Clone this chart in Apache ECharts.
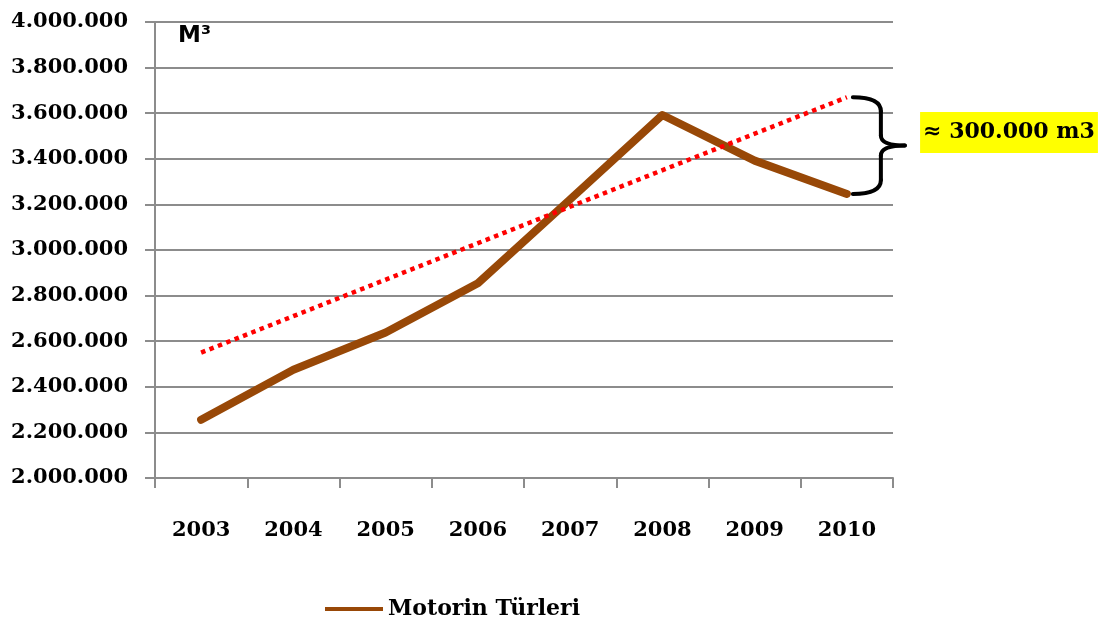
<!DOCTYPE html>
<html>
<head>
<meta charset="utf-8">
<script src="https://cdn.jsdelivr.net/npm/echarts@6/dist/echarts.min.js"></script>
<style>
  html, body { margin: 0; padding: 0; background: #fff; }
  #line { width: 1114px; height: 617px; }
</style>
</head>
<body>
<div id="line"></div>
<script>
  // values
  var years = ['2003', '2004', '2005', '2006', '2007', '2008', '2009', '2010'];
  var motorin = [2255000, 2475000, 2638000, 2854000, 3222000, 3592000, 3392000, 3246000];
  // hand drawn trend line, only the two ends
  var trend = [2550000, null, null, null, null, null, null, 3670000];
  var yMin = 2000000, yMax = 4000000, yStep = 200000;
  var gapLabel = '≈ 300.000 m3';

  var serif = '"DejaVu Serif", "Liberation Serif", serif';
  var gray = '#8c8c8c';

  function fmt(v) {
    return String(v).replace(/\B(?=(\d{3})+(?!\d))/g, '.');
  }

  var myChart = echarts.init(document.getElementById('line'));
  myChart.setOption({
    animation: false,
    grid: { left: 155, right: 221, top: 22, bottom: 139 },
    legend: {
      data: ['Motorin Türleri'],
      left: 320,
      top: 593,
      icon: 'rect',
      itemWidth: 58,
      itemHeight: 4,
      itemGap: 6,
      textStyle: { fontFamily: serif, fontWeight: 'bold', fontSize: 22, color: '#000' }
    },
    xAxis: {
      type: 'category',
      data: years,
      boundaryGap: true,
      axisLine: { lineStyle: { color: gray, width: 2 } },
      axisTick: { show: true, length: 10, lineStyle: { color: gray, width: 2 } },
      axisLabel: { margin: 42, fontFamily: serif, fontWeight: 'bold', fontSize: 21, color: '#000' }
    },
    yAxis: {
      type: 'value',
      min: yMin,
      max: yMax,
      interval: yStep,
      axisLine: { show: true, lineStyle: { color: gray, width: 2 } },
      axisTick: { show: true, length: 10, lineStyle: { color: gray, width: 2 } },
      splitLine: { lineStyle: { color: gray, width: 2 } },
      axisLabel: {
        margin: 27,
        fontFamily: serif, fontWeight: 'bold', fontSize: 21, color: '#000',
        formatter: fmt
      }
    },
    series: [
      {
        name: 'Motorin Türleri',
        type: 'line',
        data: motorin,
        symbol: 'none',
        color: '#984807',
        lineStyle: { color: '#984807', width: 8, cap: 'round', join: 'round' },
        z: 3
      },
      {
        name: 'trend',
        type: 'line',
        data: trend,
        connectNulls: true,
        symbol: 'none',
        lineStyle: { color: '#ff0000', width: 4.5, type: [4.5, 4.5] },
        z: 4
      }
    ]
  });

  // brace between the trend end and the 2010 value, plus the label
  var last = years.length - 1;
  var pBot = myChart.convertToPixel({ seriesIndex: 0 }, [last, motorin[last]]);
  var pTop = myChart.convertToPixel({ seriesIndex: 1 }, [last, trend[last]]);
  var x0 = pBot[0] + 6, xm = x0 + 28, xt = xm + 24;
  var yT = pTop[1], yB = pBot[1], yM = (yT + yB) / 2;
  var braceStyle = { fill: 'none', stroke: '#000', lineWidth: 4, lineCap: 'round' };

  function curve(x1, y1, cx, cy, x2, y2) {
    return {
      type: 'bezierCurve',
      shape: { x1: x1, y1: y1, cpx1: cx, cpy1: cy, x2: x2, y2: y2 },
      style: braceStyle,
      z: 10
    };
  }
  function seg(x1, y1, x2, y2) {
    return {
      type: 'line',
      shape: { x1: x1, y1: y1, x2: x2, y2: y2 },
      style: braceStyle,
      z: 10
    };
  }

  myChart.setOption({
    graphic: [
      curve(x0, yT, xm, yT, xm, yT + 14),
      seg(xm, yT + 14, xm, yM - 10),
      curve(xm, yM - 10, xm, yM, xt, yM),
      curve(xt, yM, xm, yM, xm, yM + 10),
      seg(xm, yM + 10, xm, yB - 14),
      curve(xm, yB - 14, xm, yB, x0, yB),
      {
        type: 'text',
        x: 1009,
        y: yM - 13,
        style: {
          text: gapLabel,
          fontFamily: serif, fontWeight: 'bold', fontSize: 22, fill: '#000',
          backgroundColor: '#ffff00',
          padding: [10, 3, 9, 3],
          align: 'center',
          verticalAlign: 'middle'
        },
        z: 10
      },
      {
        type: 'text',
        x: 178,
        y: 25,
        style: {
          text: 'M³',
          fontFamily: '"DejaVu Sans", sans-serif',
          fontWeight: 'bold', fontSize: 23, fill: '#000'
        }
      }
    ]
  });
</script>
</body>
</html>
